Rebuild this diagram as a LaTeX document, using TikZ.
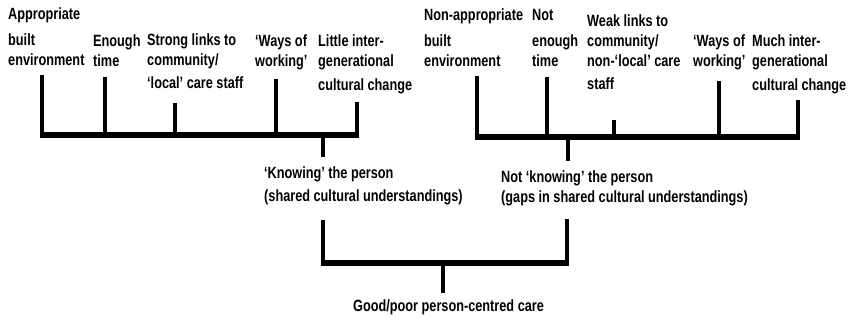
\documentclass[tikz,border=0pt]{standalone}
\usepackage{fontspec}
\setmainfont{Liberation Sans}[FakeStretch=0.78]
\begin{document}
\begin{tikzpicture}[x=1pt,y=-1pt,
  lbl/.style={anchor=base west, inner sep=0pt, align=left, font=\fontsize{16.3}{20}\selectfont\bfseries},
  stem/.style={line width=3.8pt},
  bar/.style={line width=5.5pt, shorten <=-1.9pt, shorten >=-1.9pt}]
\useasboundingbox (0,0) rectangle (860,320);

% ---- left group texts (anchored at the baseline of the last line)
\node[lbl] (a1) at (8,66)   {Appropriate\\[6pt]built\\environment};
\node[lbl] (a2) at (93,67)  {Enough\\time};
\node[lbl] (a3) at (147,89) {Strong links to\\community/\\[3pt]‘local’ care staff};
\node[lbl] (a4) at (255,67) {‘Ways of\\working’};
\node[lbl] (a5) at (318,91) {Little inter-\\generational\\[4pt]cultural change};

% ---- right group texts
\node[lbl] (b1) at (424,67) {Non-appropriate\\[6pt]built\\environment};
\node[lbl] (b2) at (532,67) {Not\\[6pt]enough\\time};
\node[lbl] (b3) at (587,90) {Weak links to\\community/\\non-‘local’ care\\[3pt]staff};
\node[lbl] (b4) at (693,67) {‘Ways of\\working’};
\node[lbl] (b5) at (752,91) {Much inter-\\generational\\[4pt]cultural change};

% ---- middle and bottom texts
\node[lbl] (k)  at (264,202) {‘Knowing’ the person\\[3pt](shared cultural understandings)};
\node[lbl] (nk) at (501,203) {Not ‘knowing’ the person\\(gaps in shared cultural understandings)};
\node[lbl] (g)  at (353,312) {Good/poor person-centred care};

% ---- left bracket
\coordinate (l1) at (42,75);
\coordinate (l2) at (105,77);
\coordinate (l3) at (175,103);
\coordinate (l4) at (276,79);
\coordinate (l5) at (357,102);
\coordinate (lbar) at (357,135);
\coordinate (lt) at (323,135);
\coordinate (ltend) at (323,157);
\draw[bar] (l1 |- lbar) -- (lbar);
\foreach \p in {l1,l2,l3,l4,l5} \draw[stem] (\p) -- (\p |- lbar);
\draw[stem] (lt) -- (ltend);

% ---- right bracket
\coordinate (r1) at (477,76);
\coordinate (r2) at (547,77);
\coordinate (r3) at (614,120);
\coordinate (r4) at (719,81);
\coordinate (r5) at (798,100);
\coordinate (rbar) at (798,137);
\coordinate (rt) at (568,137);
\coordinate (rtend) at (568,161);
\draw[bar] (r1 |- rbar) -- (rbar);
\foreach \p in {r1,r2,r3,r4,r5} \draw[stem] (\p) -- (\p |- rbar);
\draw[stem] (rt) -- (rtend);

% ---- bottom bracket
\coordinate (kb) at (323,220);
\coordinate (nb) at (567,219);
\coordinate (bbar) at (567,263);
\coordinate (bt) at (443,263);
\coordinate (btend) at (443,293);
\draw[bar] (kb |- bbar) -- (bbar);
\draw[stem] (kb) -- (kb |- bbar);
\draw[stem] (nb) -- (nb |- bbar);
\draw[stem] (bt) -- (btend);
\end{tikzpicture}
\end{document}
